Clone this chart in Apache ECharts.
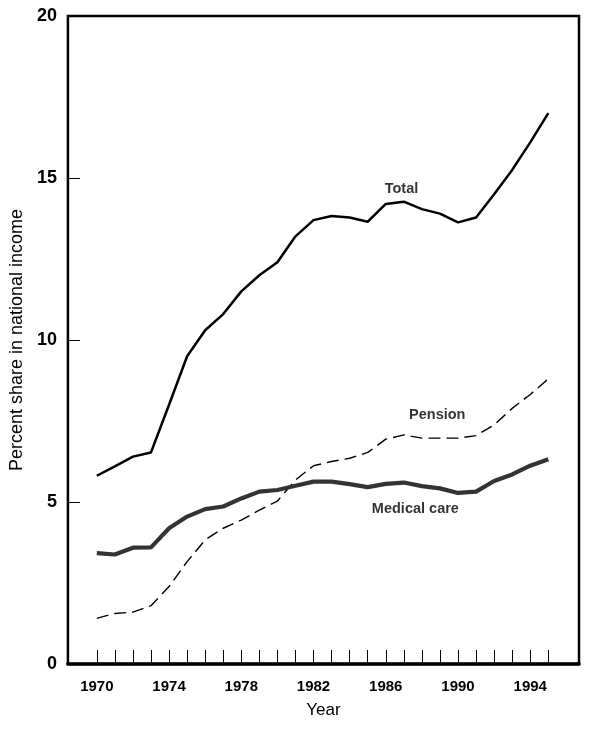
<!DOCTYPE html>
<html>
<head>
<meta charset="utf-8">
<script src="https://cdn.jsdelivr.net/npm/echarts@6/dist/echarts.min.js"></script>
<style>html,body{margin:0;padding:0;background:#fff}#c{width:600px;height:730px}</style>
</head>
<body>
<div id="c"></div>
<script>
const years = [1970,1971,1972,1973,1974,1975,1976,1977,1978,1979,1980,1981,1982,1983,1984,1985,1986,1987,1988,1989,1990,1991,1992,1993,1994,1995];
const total   = [5.81,6.1,6.4,6.53,8.0,9.5,10.3,10.8,11.5,12.0,12.4,13.2,13.7,13.83,13.78,13.65,14.2,14.27,14.04,13.9,13.63,13.78,14.5,15.25,16.1,17.0];
const pension = [1.41,1.56,1.6,1.8,2.39,3.16,3.83,4.19,4.44,4.75,5.03,5.68,6.12,6.25,6.35,6.53,6.94,7.07,6.97,6.97,6.97,7.05,7.38,7.89,8.32,8.8];
const medical = [3.42,3.38,3.59,3.6,4.19,4.55,4.78,4.86,5.11,5.32,5.37,5.5,5.63,5.63,5.55,5.46,5.56,5.6,5.49,5.42,5.28,5.32,5.65,5.85,6.12,6.32];
const xTickLabels = [1970,1974,1978,1982,1986,1990,1994];
const seriesLabels = [
  {name:'Total', x:1986.87, y:14.66},
  {name:'Pension', x:1988.85, y:7.69},
  {name:'Medical care', x:1987.64, y:4.77}
];

const pair = arr => years.map((y,i)=>[y,arr[i]]);
const FONT = '"Liberation Sans", Arial, Helvetica, sans-serif';

const chart = echarts.init(document.getElementById('c'), null, {renderer:'canvas'});
chart.setOption({
  animation:false,
  backgroundColor:'#fff',
  grid:{left:64,right:21,top:16,bottom:66,show:true,borderColor:'#000',borderWidth:2.5,backgroundColor:'transparent'},
  xAxis:{
    type:'value', min:1968.4, max:1996.7,
    name:'Year', nameLocation:'middle', nameGap:38,
    nameTextStyle:{fontFamily:FONT,fontSize:17,color:'#000'},
    axisLine:{show:true,onZero:false,lineStyle:{color:'#000',width:3.5}},
    axisTick:{show:true,inside:true,length:14,lineStyle:{color:'#000',width:1},customValues:years},
    axisLabel:{show:true,margin:15,fontFamily:FONT,fontSize:15,fontWeight:'bold',color:'#000',customValues:xTickLabels,formatter:v=>String(v)},
    splitLine:{show:false}
  },
  yAxis:{
    type:'value', min:0, max:20, interval:5,
    name:'Percent share in national income', nameLocation:'middle', nameGap:37,
    nameTextStyle:{fontFamily:FONT,fontSize:18,color:'#000'},
    axisLine:{show:false},
    axisTick:{show:true,inside:true,length:12,lineStyle:{color:'#000',width:1}},
    axisLabel:{margin:11,fontFamily:FONT,fontSize:18,fontWeight:'bold',color:'#000'},
    splitLine:{show:false}
  },
  series:[
    {type:'line',name:'Total',data:pair(total),symbol:'none',lineStyle:{color:'#000',width:2.5}},
    {type:'line',name:'Pension',data:pair(pension),symbol:'none',lineStyle:{color:'#000',width:1.4,type:[12,6]}},
    {type:'line',name:'Medical care',data:pair(medical),symbol:'none',lineStyle:{color:'#333',width:4.2}},
    {type:'scatter',data:seriesLabels.map(d=>({value:[d.x,d.y],name:d.name})),symbolSize:0,
     label:{show:true,position:'inside',formatter:p=>p.name,fontFamily:FONT,fontSize:14.5,fontWeight:'bold',color:'#000',textBorderWidth:0},
     silent:true}
  ]
});
</script>
</body>
</html>
